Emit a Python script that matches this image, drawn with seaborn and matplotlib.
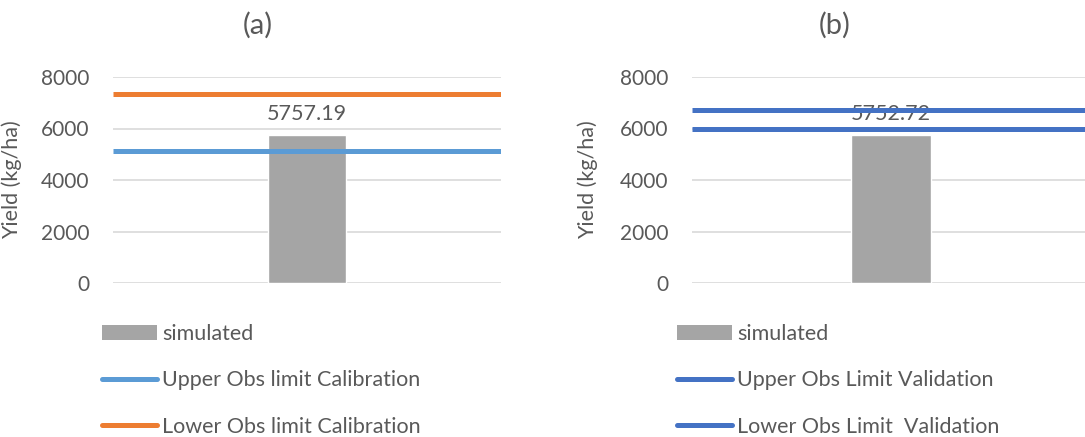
import matplotlib
matplotlib.use("Agg")
import matplotlib.pyplot as plt
from matplotlib.patches import Patch
from matplotlib.lines import Line2D
import seaborn as sns

# Simulated yield per run
categories = [""]
simulated_a = [5757.19]
simulated_b = [5752.72]

# Observed yield limits (kg/ha)
limits_a = [5130, 7330]
limits_b = [6720, 6000]
limit_labels_a = ["Upper Obs limit Calibration", "Lower Obs limit Calibration"]
limit_labels_b = ["Upper Obs Limit Validation", "Lower Obs Limit  Validation"]
limit_colors_a = ["#5B9BD5", "#ED7D31"]
limit_colors_b = ["#4472C4", "#4472C4"]

y_ticks = [0, 2000, 4000, 6000, 8000]
titles = ["(a)", "(b)"]

sns.set_theme(style="white")
plt.rcParams["font.family"] = ["Lato", "DejaVu Sans"]
TXT = "#595959"
BAR = "#A5A5A5"
GRID = "#D9D9D9"
FS = 15.5

W, H = 1085, 437
fig = plt.figure(figsize=(W / 100, H / 100), dpi=100)


def px_axes(left, right, top, bottom):
    return fig.add_axes([left / W, 1 - bottom / H, (right - left) / W, (bottom - top) / H])


panels = [
    dict(box=(113, 501, 77, 283), vals=simulated_a, lims=limits_a, labs=limit_labels_a,
         cols=limit_colors_a, title_x=258, leg_x=102),
    dict(box=(692, 1090, 77, 283), vals=simulated_b, lims=limits_b, labs=limit_labels_b,
         cols=limit_colors_b, title_x=835, leg_x=677),
]

for p, title in zip(panels, titles):
    ax = px_axes(*p["box"])
    sns.barplot(x=categories, y=p["vals"], ax=ax, color=BAR, width=0.2,
                saturation=1, zorder=2)
    ax.bar_label(ax.containers[0], labels=[f"{v:.2f}" for v in p["vals"]],
                 padding=8, fontsize=FS, color=TXT, zorder=3)
    for val, col in zip(p["lims"], p["cols"]):
        ax.axhline(val, color=col, lw=3.6, zorder=4, solid_capstyle="butt")

    ax.set_ylim(0, 8000)
    ax.set_xlim(-0.5, 0.5)
    ax.set_yticks(y_ticks)
    ax.set_yticklabels([str(t) for t in y_ticks])
    ax.yaxis.grid(True, color=GRID, lw=1.2, zorder=0)
    ax.set_axisbelow(True)
    for s in ax.spines.values():
        s.set_visible(False)
    ax.tick_params(axis="y", length=0, pad=17, labelsize=15, labelcolor=TXT)
    ax.tick_params(axis="x", length=0, labelbottom=False)
    ax.set_xlabel("")
    ax.set_ylabel("Yield (kg/ha)", fontsize=FS, color=TXT)
    ax.yaxis.set_label_coords(-0.235, 0.5)

    fig.text(p["title_x"] / W, 1 - 25 / H, title, ha="center", va="center",
             fontsize=21, color=TXT)

    handles = [Patch(facecolor=BAR, edgecolor="none")] + [
        Line2D([0], [0], color=c, lw=3.6, solid_capstyle="round") for c in p["cols"]
    ]
    labels = ["simulated"] + p["labs"]
    fig.legend(handles, labels, loc="upper left",
               bbox_to_anchor=(p["leg_x"] / W, 1 - 324 / H),
               frameon=False, fontsize=FS, labelcolor=TXT, labelspacing=1.22,
               handlelength=2.55, handletextpad=0.25, borderpad=0, borderaxespad=0)

fig.savefig("out.png", dpi=100, facecolor="white")
